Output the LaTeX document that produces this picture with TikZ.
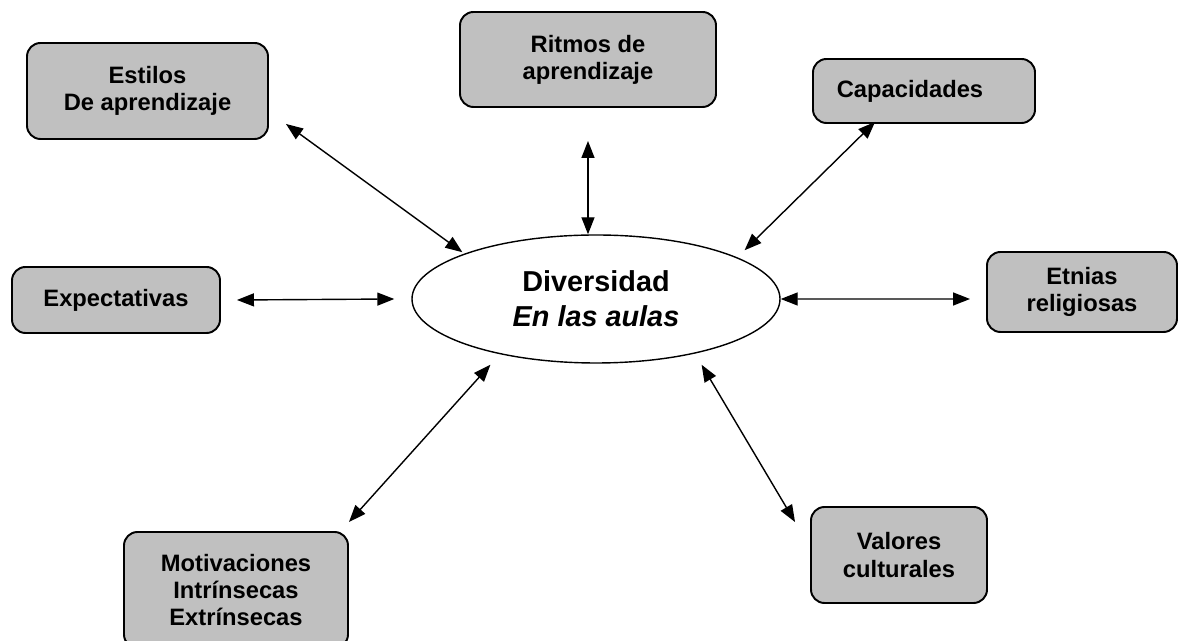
\documentclass[tikz,border=0pt]{standalone}
\usepackage{fontspec}
\setmainfont{Liberation Sans}
\usepackage{xcolor}
\usetikzlibrary{shapes.geometric,arrows.meta}
\definecolor{cajagris}{RGB}{192,192,192}

\begin{document}
\begin{tikzpicture}
			\useasboundingbox (0,0) rectangle (23.58,12.82);
			\begin{scope}[every node/.style={rectangle,rounded corners=0.27cm,draw=black,line width=1.1pt,fill=cajagris,inner sep=0pt,align=center,font=\bfseries\fontsize{13.5}{15.5}\selectfont}]
				\node[minimum width=4.82cm,minimum height=1.92cm] (estilos) at (2.95,11.00) {Estilos\\De aprendizaje};
				\node[minimum width=5.12cm,minimum height=1.90cm] (ritmos) at (11.76,11.63) {Ritmos de\\aprendizaje};
				\node[minimum width=4.44cm,minimum height=1.28cm] (capac) at (18.48,11.00) {Capacidades\hspace*{0.56cm}};
				\node[minimum width=4.16cm,minimum height=1.32cm] (expect) at (2.32,6.82) {Expectativas};
				\node[minimum width=3.80cm,minimum height=1.60cm] (etnias) at (21.64,6.98) {Etnias\\religiosas};
				\node[minimum width=4.48cm,minimum height=2.32cm] (motiv) at (4.72,1.02) {Motivaciones\\Intrínsecas\\Extrínsecas};
				\node[minimum width=3.52cm,minimum height=1.92cm] (valores) at (17.98,1.72) {Valores\\culturales};
			\end{scope}
			\node[ellipse,draw=black,line width=0.8pt,inner sep=0pt,minimum width=7.36cm,minimum height=2.56cm,align=center,font=\bfseries\fontsize{16.4}{19.8}\selectfont] (ell) at (11.92,6.84) {Diversidad\\\textit{En las aulas}};
			\begin{scope}[>={Triangle[length=3.4mm,width=2.6mm]},
				every edge/.style={draw=black,thick}]
				\path [<->] ([shift={(0.34,0.32)}]estilos.south east) edge ([shift={(-0.06,0.02)}]ell.north west);
				\path [<->] ([yshift=-6.6mm]ritmos.south) edge (ritmos.south |- ell.north);
				\path [<->] ([shift={(1.26,0.04)}]capac.south west) edge ([shift={(0.36,0.06)}]ell.north east);
				\path [<->] ([xshift=3.2mm]expect.east) edge ([xshift=-3.4mm]ell.west);
				\path [<->] (ell.east) edge ([shift={(-0.32,-0.14)}]etnias.west);
				\path [<->] ([yshift=1.8mm]motiv.north east) edge ([shift={(0.50,-0.40)}]ell.south west);
				\path [<->] ([shift={(-0.30,-0.32)}]valores.north west) edge ([shift={(-0.50,-0.40)}]ell.south east);
			\end{scope}
		\end{tikzpicture}
\end{document}
